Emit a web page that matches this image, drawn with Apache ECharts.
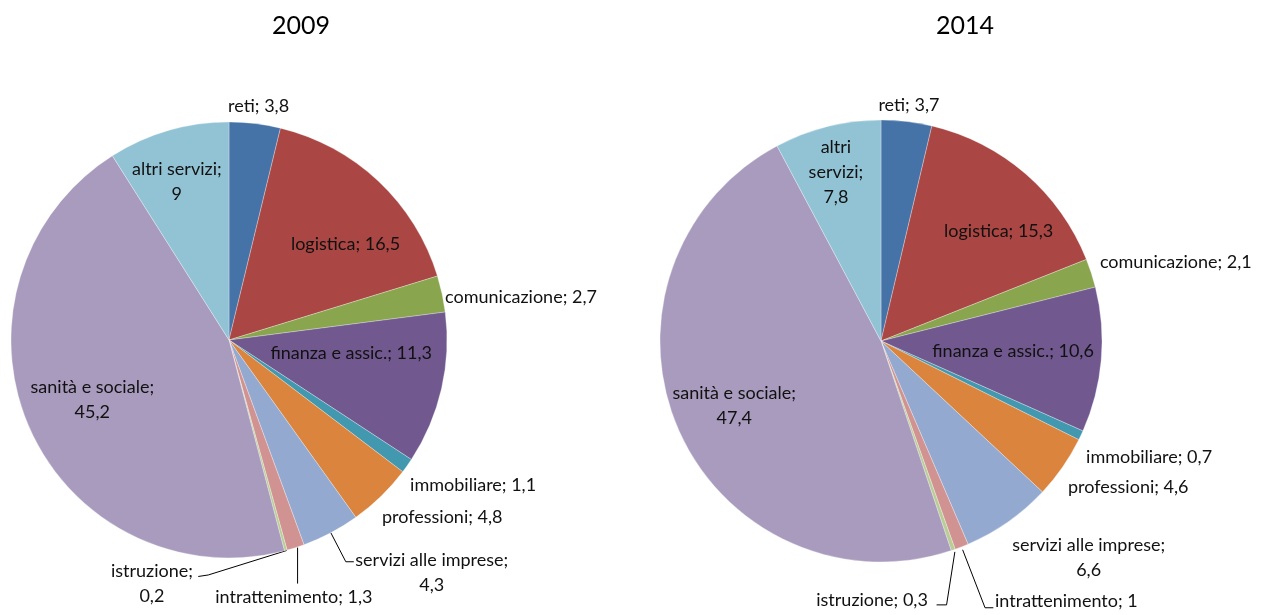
<!DOCTYPE html>
<html lang="it">
<head>
  <meta charset="UTF-8">
  <title>2009 - 2014</title>
  <script src="https://cdn.jsdelivr.net/npm/echarts@6/dist/echarts.min.js"></script>
  <style>
    html, body { margin: 0; padding: 0; background: #fff; }
    #chart { width: 1264px; height: 615px; }
  </style>
</head>
<body>
  <div id="chart"></div>
  <script>
    // dati
    const years = ['2009', '2014']
    const categories = ['reti', 'logistica', 'comunicazione', 'finanza e assic.', 'immobiliare',
      'professioni', 'servizi alle imprese', 'intrattenimento', 'istruzione', 'sanità e sociale', 'altri servizi']
    const values2009 = [3.8, 16.5, 2.7, 11.3, 1.1, 4.8, 4.3, 1.3, 0.2, 45.2, 9]
    const values2014 = [3.7, 15.3, 2.1, 10.6, 0.7, 4.6, 6.6, 1, 0.3, 47.4, 7.8]
    const colors = ['#4572a7', '#aa4643', '#89a54e', '#71588f', '#4198af', '#db843d',
      '#93a9cf', '#d19392', '#b9cd96', '#a99bbd', '#92c3d4']

    // posizione delle etichette, relativa al bordo della fetta (o al centro per quelle interne)
    const labelPos = [
      {
        'reti': { ox: 3.7, oy: -17.5, align: 'center' },
        'logistica': { inside: true, ox: 39.7, oy: -14.6 },
        'comunicazione': { ox: 3, oy: 3 },
        'finanza e assic.': { inside: true, ox: 13, oy: -12 },
        'immobiliare': { ox: 3, oy: 19.5 },
        'professioni': { ox: 1, oy: 20.5 },
        'servizi alle imprese': { ox: 24.5, oy: 39.6, wrap: 'value', line: [[0, 0], [15, 29], [23, 29]] },
        'intrattenimento': { ox: -1.7, oy: 49.2, align: 'center', line: [[2, 0], [2, 36]] },
        'istruzione': { ox: -92.8, oy: 33.6, align: 'right', wrap: 'value', line: [[1, 0], [-77.5, 24.5], [-87.5, 26]] },
        'sanità e sociale': { inside: true, ox: -34, oy: 14.8, wrap: 'value' },
        'altri servizi': { inside: true, ox: -21, oy: -51, wrap: 'value' }
      },
      {
        'reti': { ox: 2.3, oy: -16.5, align: 'center' },
        'logistica': { inside: true, ox: 43.5, oy: -24 },
        'comunicazione': { ox: 8.6, oy: -11.4 },
        'finanza e assic.': { inside: true, ox: 19, oy: 0.4 },
        'immobiliare': { ox: 5.2, oy: 21.6 },
        'professioni': { ox: 5.5, oy: 19.8 },
        'servizi alle imprese': { ox: 4.2, oy: 36, wrap: 'value' },
        'intrattenimento': { ox: 33.4, oy: 54.2, line: [[1, 3], [23.4, 61], [31.7, 61]] },
        'istruzione': { ox: -25.3, oy: 50.2, align: 'right', line: [[1.7, 2], [-6.6, 55], [-16.6, 55]] },
        'sanità e sociale': { inside: true, ox: -42.5, oy: 20.3, wrap: 'value' },
        'altri servizi': { inside: true, ox: -17.6, oy: -58.8, wrap: 'words' }
      }
    ]

    const FONT = 'Lato'
    const myChart = echarts.init(document.getElementById('chart'), null, { renderer: 'canvas' })

    function fmt(v) {
      return String(v).replace('.', ',')
    }

    function makeSeries(idx, values, center, radius) {
      const pos = labelPos[idx]
      return {
        type: 'pie',
        center: center,
        radius: radius,
        startAngle: 90,
        clockwise: true,
        avoidLabelOverlap: false,
        animation: false,
        emphasis: { disabled: true },
        itemStyle: { borderColor: '#fff', borderWidth: 0.3 },
        label: {
          show: true,
          position: 'outside',
          color: '#111',
          fontFamily: FONT,
          fontSize: 18,
          lineHeight: 25,
          formatter: function (p) {
            const s = pos[p.name] || {}
            let text = p.name + '; ' + fmt(p.value)
            if (s.wrap === 'value') text = p.name + ';\n' + fmt(p.value)
            if (s.wrap === 'words') text = p.name.split(' ').join('\n') + ';\n' + fmt(p.value)
            return text.split('\n').map(l => '{c|' + l + '}').join('\n')
          },
          rich: {
            c: { align: 'center', color: '#111', fontFamily: FONT, fontSize: 18, lineHeight: 25 }
          }
        },
        labelLine: {
          show: true,
          length: 0,
          length2: 0,
          lineStyle: { color: '#000', width: 1 }
        },
        labelLayout: function (p) {
          const s = pos[categories[p.dataIndex]]
          if (!s) return {}
          const r = p.labelRect
          if (s.inside) {
            return {
              x: r.x + r.width / 2 + s.ox,
              y: r.y + r.height / 2 + s.oy,
              align: 'center',
              verticalAlign: 'middle'
            }
          }
          const p0 = p.labelLinePoints[0]
          const line = s.line || [[0, 0], [0, 0]]
          return {
            x: p0[0] + s.ox,
            y: p0[1] + s.oy,
            align: s.align || 'left',
            verticalAlign: 'middle',
            labelLinePoints: line.map(q => [p0[0] + q[0], p0[1] + q[1]])
          }
        },
        data: categories.map((name, i) => {
          const item = { name: name, value: values[i], itemStyle: { color: colors[i] } }
          if (pos[name] && pos[name].inside) {
            item.label = { position: 'inside' }
            item.labelLine = { show: false }
          }
          return item
        })
      }
    }

    const option = {
      backgroundColor: '#fff',
      animation: false,
      title: [
        { text: years[0], left: 301, top: 13, textAlign: 'center', padding: 0,
          textStyle: { fontFamily: FONT, fontSize: 25, fontWeight: 'normal', color: '#000' } },
        { text: years[1], left: 965, top: 13, textAlign: 'center', padding: 0,
          textStyle: { fontFamily: FONT, fontSize: 25, fontWeight: 'normal', color: '#000' } }
      ],
      series: [
        makeSeries(0, values2009, [229, 340], 218),
        makeSeries(1, values2014, [881, 341], 221)
      ]
    }

    myChart.setOption(option)
  </script>
</body>
</html>
